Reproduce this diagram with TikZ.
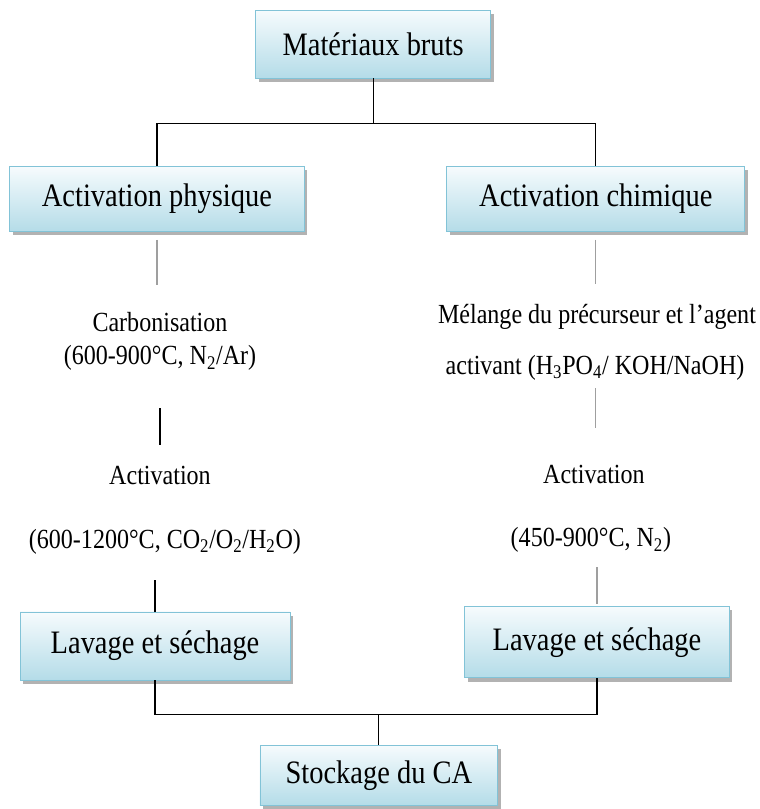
\documentclass[tikz,border=0pt]{standalone}
\usepackage{fontspec}
\setmainfont[FakeStretch=0.87]{Liberation Serif}
\usetikzlibrary{shadows}

\definecolor{boxtop}{RGB}{246,251,253}
\definecolor{boxbottom}{RGB}{180,220,232}
\definecolor{boxline}{RGB}{130,195,215}

\tikzset{
  stage/.style={draw=boxline, line width=0.6pt, top color=boxtop, bottom color=boxbottom,
    font=\fontsize{24.5}{28}\selectfont,
    drop shadow={shadow xshift=0.08cm, shadow yshift=-0.1cm, fill=gray!60, opacity=1}},
  cond/.style={inner sep=0pt, text height=14.5pt, text depth=4.1pt,
    font=\fontsize{20.7}{25}\selectfont},
  bus/.style={line width=0.9pt, black},
  link/.style={line width=0.9pt, gray!75},
}

\begin{document}
\begin{tikzpicture}
        \useasboundingbox (0,0) rectangle (20,21.29);
        % Column positions
        \def\xl{4.21}
        \def\xr{15.71}

        % Boxes
        \node[stage, minimum width=6.18cm, minimum height=1.79cm] (raw) at (9.82,20.13) {Matériaux bruts};
        \node[stage, minimum width=7.76cm, minimum height=1.71cm] (phys) at (4.13,16.05) {Activation physique};
        \node[stage, minimum width=7.84cm, minimum height=1.71cm] (chem) at (15.68,16.05) {Activation chimique};
        \node[stage, minimum width=7.1cm, minimum height=1.79cm] (washL) at (4.08,4.29) {Lavage et séchage};
        \node[stage, minimum width=6.97cm, minimum height=1.87cm] (washR) at (15.71,4.39) {Lavage et séchage};
        \node[stage, minimum width=6.26cm, minimum height=1.58cm] (store) at (9.97,0.89) {Stockage du CA};

        % Physical route
        \node[cond] (carb) at (\xl,12.74) {Carbonisation};
        \node[cond] (carbT) at (\xl,11.87) {(600-900°C, N\textsubscript{2}/Ar)};
        \node[cond] (actL) at (\xl,8.71) {Activation};
        \node[cond] (actLT) at (4.34,7.05) {(600-1200°C, CO\textsubscript{2}/O\textsubscript{2}/H\textsubscript{2}O)};

        % Chemical route
        \node[cond] (mixA) at (\xr,12.95) {Mélange du précurseur et l’agent};
        \node[cond] (mixB) at (15.66,11.63) {activant (H\textsubscript{3}PO\textsubscript{4}/ KOH/NaOH)};
        \node[cond] (actR) at (15.63,8.74) {Activation};
        \node[cond] (actRT) at (15.55,7.08) {(450-900°C, N\textsubscript{2})};

        % Split
        \draw[bus] (raw.south) -- ++(0,-1.18) coordinate (split);
        \draw[bus] (split) -| (phys.north);
        \draw[bus] (split) -| (chem.north);

        % Short links
        \draw[link, shorten <=0.21cm, shorten >=0.71cm] (phys.south) -- (phys.south |- carb.north);
        \draw[bus, shorten <=0.99cm, shorten >=0.54cm] (carbT.south) -- (actL.north);
        \draw[bus, shorten <=0.70cm] (actLT.south -| washL.north) -- (washL.north);
        \draw[link, shorten <=0.21cm, shorten >=0.52cm] (chem.south) -- (chem.south |- mixA.north);
        \draw[link, shorten <=0.23cm, shorten >=0.96cm] (mixB.south -| chem.south) -- (chem.south |- actR.north);
        \draw[link, shorten <=0.38cm, shorten >=0.07cm] (actRT.south -| washR.north) -- (washR.north);

        % Merge
        \coordinate (join) at ([yshift=0.79cm]store.north);
        \draw[bus] (washL.south) |- (join) -| (washR.south);
        \draw[bus] (join) -- (store.north);
    \end{tikzpicture}
\end{document}
